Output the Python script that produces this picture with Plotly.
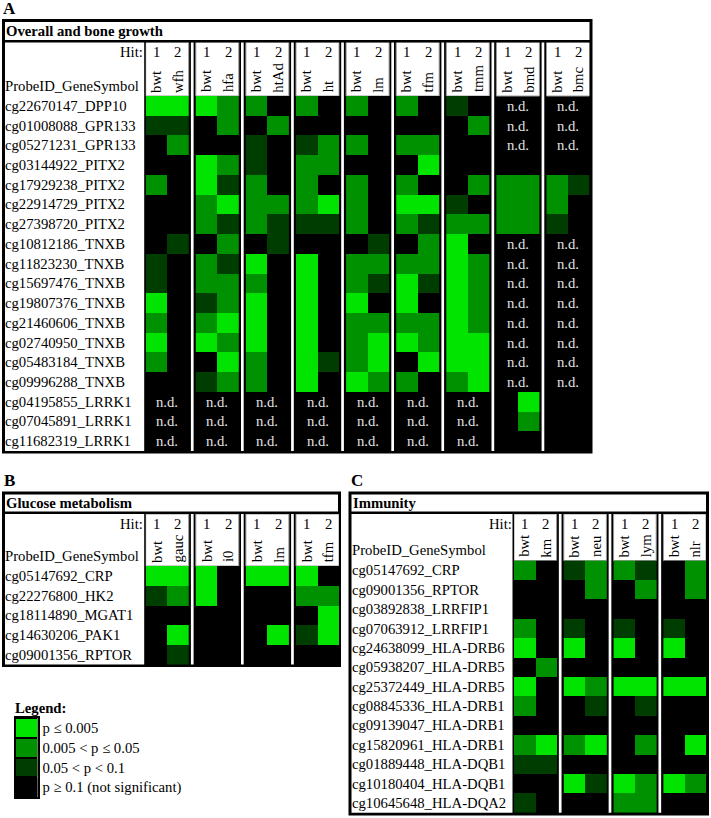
import plotly.graph_objects as go

W, H = 711, 818
N = None  # n.d. = not determined

# significance level per probe: 3 = p<=0.005, 2 = 0.005<p<=0.05, 1 = 0.05<p<0.1, 0 = p>=0.1
LEVEL_COLORS = ["#000000", "#003d00", "#009100", "#00e400"]
legend_labels = ["p \u2264 0.005", "0.005 < p \u2264 0.05", "0.05 < p < 0.1", "p \u2265 0.1 (not significant)"]
legend_levels = [3, 2, 1, 0]

# ---- A: Overall and bone growth
a_probes = ["cg22670147_DPP10", "cg01008088_GPR133", "cg05271231_GPR133", "cg03144922_PITX2",
            "cg17929238_PITX2", "cg22914729_PITX2", "cg27398720_PITX2", "cg10812186_TNXB",
            "cg11823230_TNXB", "cg15697476_TNXB", "cg19807376_TNXB", "cg21460606_TNXB",
            "cg02740950_TNXB", "cg05483184_TNXB", "cg09996288_TNXB", "cg04195855_LRRK1",
            "cg07045891_LRRK1", "cg11682319_LRRK1"]
a_traits = ["wfh", "hfa", "htAd", "ht", "lm", "tfm", "tmm", "bmd", "bmc"]
a_bwt_wfh = [3, 1, 0, 0, 2, 0, 0, 0, 1, 1, 3, 2, 3, 2, 0, N, N, N]
a_wfh = [3, 1, 2, 0, 0, 0, 0, 1, 0, 0, 0, 0, 0, 0, 0, N, N, N]
a_bwt_hfa = [3, 0, 0, 3, 3, 2, 2, 0, 2, 2, 1, 2, 3, 0, 1, N, N, N]
a_hfa = [2, 2, 0, 2, 1, 3, 1, 2, 1, 2, 2, 3, 2, 3, 2, N, N, N]
a_bwt_htAd = [2, 0, 1, 1, 2, 2, 2, 0, 3, 2, 3, 3, 3, 2, 2, N, N, N]
a_htAd = [0, 2, 0, 0, 0, 2, 1, 1, 0, 0, 0, 0, 0, 0, 0, N, N, N]
a_bwt_ht = [2, 0, 1, 2, 2, 2, 1, 0, 3, 3, 3, 3, 3, 3, 3, N, N, N]
a_ht = [0, 0, 2, 2, 0, 3, 1, 0, 0, 0, 0, 0, 0, 1, 0, N, N, N]
a_bwt_lm = [2, 0, 2, 0, 2, 2, 2, 0, 2, 2, 3, 2, 2, 2, 3, N, N, N]
a_lm = [0, 0, 0, 0, 0, 0, 0, 1, 2, 1, 0, 2, 3, 3, 2, N, N, N]
a_bwt_tfm = [2, 0, 2, 0, 2, 3, 2, 0, 2, 3, 3, 2, 3, 0, 2, N, N, N]
a_tfm = [0, 0, 2, 3, 0, 3, 1, 2, 2, 1, 0, 2, 2, 3, 0, N, N, N]
a_bwt_tmm = [1, 0, 0, 0, 0, 1, 2, 3, 3, 3, 3, 3, 3, 3, 2, N, N, N]
a_tmm = [0, 2, 0, 0, 2, 0, 2, 0, 2, 2, 2, 2, 3, 3, 3, N, N, N]
a_bwt_bmd = [N, N, N, 0, 2, 2, 2, N, N, N, N, N, N, N, N, 0, 0, 0]
a_bmd = [N, N, N, 0, 2, 2, 2, N, N, N, N, N, N, N, N, 3, 2, 0]
a_bwt_bmc = [N, N, N, 0, 2, 2, 1, N, N, N, N, N, N, N, N, 0, 0, 0]
a_bmc = [N, N, N, 0, 1, 0, 0, N, N, N, N, N, N, N, N, 0, 0, 0]

# ---- B: Glucose metabolism
b_probes = ["cg05147692_CRP", "cg22276800_HK2", "cg18114890_MGAT1", "cg14630206_PAK1", "cg09001356_RPTOR"]
b_traits = ["gauc", "i0", "lm", "tfm"]
b_bwt_gauc = [3, 1, 0, 0, 0]
b_gauc = [3, 2, 0, 3, 1]
b_bwt_i0 = [3, 3, 0, 0, 0]
b_i0 = [0, 0, 0, 0, 0]
b_bwt_lm = [3, 0, 0, 0, 0]
b_lm = [3, 0, 0, 3, 0]
b_bwt_tfm = [3, 2, 0, 1, 0]
b_tfm = [0, 2, 3, 3, 0]

# ---- C: Immunity
c_probes = ["cg05147692_CRP", "cg09001356_RPTOR", "cg03892838_LRRFIP1", "cg07063912_LRRFIP1",
            "cg24638099_HLA-DRB6", "cg05938207_HLA-DRB5", "cg25372449_HLA-DRB5", "cg08845336_HLA-DRB1",
            "cg09139047_HLA-DRB1", "cg15820961_HLA-DRB1", "cg01889448_HLA-DQB1", "cg10180404_HLA-DQB1",
            "cg10645648_HLA-DQA2"]
c_traits = ["km", "neu", "lym", "nlr"]
c_bwt_km = [2, 0, 0, 2, 3, 0, 3, 2, 0, 2, 1, 0, 1]
c_km = [0, 0, 0, 0, 0, 2, 0, 0, 0, 3, 1, 0, 0]
c_bwt_neu = [1, 0, 0, 1, 3, 0, 3, 0, 0, 2, 0, 3, 0]
c_neu = [2, 2, 0, 0, 0, 0, 2, 1, 0, 3, 0, 1, 0]
c_bwt_lym = [2, 0, 0, 1, 3, 0, 3, 0, 0, 0, 0, 3, 2]
c_lym = [1, 2, 0, 0, 0, 0, 3, 1, 0, 2, 0, 2, 2]
c_bwt_nlr = [0, 0, 0, 1, 3, 0, 3, 0, 0, 0, 0, 3, 0]
c_nlr = [2, 2, 0, 0, 0, 0, 3, 0, 0, 3, 0, 2, 0]

FONT = "Liberation Serif"
FS = 14.7
SCALE = [[0, LEVEL_COLORS[0]], [1 / 3, LEVEL_COLORS[1]], [2 / 3, LEVEL_COLORS[2]], [1, LEVEL_COLORS[3]]]


def px(x):
    return x / W


def py(y):
    return 1 - y / H


fig = go.Figure()
annotations = []
shapes = []


def text(t, x, y, xref="paper", yref="paper", size=FS, bold=False, color="black",
         xanchor="center", yanchor="middle", **kw):
    if bold:
        t = "<b>" + t + "</b>"
    annotations.append(dict(text=t, x=x, y=y, xref=xref, yref=yref, showarrow=False,
                            xanchor=xanchor, yanchor=yanchor,
                            font=dict(family=FONT, size=size, color=color), borderpad=0, **kw))


def rect(x0, y0, x1, y1, color, xref="paper", yref="paper", line=None, layer="below"):
    shapes.append(dict(type="rect", x0=x0, y0=y0, x1=x1, y1=y1, xref=xref, yref=yref,
                       fillcolor=color, line=line or dict(width=0), layer=layer))


def add_panel(k, letter, title, probes, traits, hit1, hit2, g):
    xa = "x" if k == 1 else "x%d" % k
    ya = "y" if k == 1 else "y%d" % k
    n = len(probes)
    rh = (g["data_bot"] - g["data_top"]) / n
    hdr = (g["data_top"] - g["hdr_top"]) / rh
    pu = g["pitch"] / g["cw"]
    xmax = (len(traits) - 1) * pu + 2
    right = g["left"] + xmax * g["cw"]

    # frame, title bar, label column
    bx0, by0, bx1, by1 = g["box"]
    rect(px(bx0), py(by0), px(bx1), py(by1), "black")
    rect(px(bx0 + 3), py(by0 + 3), px(bx1 - 3), py(g["hdr_top"] - 2.5), "white")
    rect(px(bx0 + 3), py(g["hdr_top"]), px(g["left"] - 1.5), py(g["data_bot"]), "white")
    text(letter, px(g["letter"][0]), py(g["letter"][1]), size=17, bold=True, xanchor="left")
    text(title, px(bx0 + 3), py((by0 + 3 + g["hdr_top"] - 2.5) / 2), bold=True, xanchor="left")
    text("Hit:", px(g["left"] - 1.5), py(g["hdr_top"] + 9.5), xanchor="right")
    text("ProbeID_GeneSymbol", px(bx0 + 2), py(g["data_top"] - 10.5), xanchor="left")
    for r, name in enumerate(probes):
        text(name, px(bx0 + 2), r, yref=ya, xanchor="left")

    rows = list(range(n))
    for i, trait in enumerate(traits):
        x0 = i * pu
        z = [[hit1[i][r], hit2[i][r]] for r in rows]
        fig.add_trace(go.Heatmap(x=[x0 + 0.5, x0 + 1.5], y=rows, z=z, colorscale=SCALE,
                                 zmin=0, zmax=3, showscale=False, xaxis=xa, yaxis=ya,
                                 hoverinfo="skip"))
        rect(x0, -0.5 - hdr, x0 + 2, -0.5, "white", xref=xa, yref=ya,
             line=dict(color="#9a9a9a", width=1))
        for c, (hit, lab) in enumerate(zip(["1", "2"], ["bwt", trait])):
            text(hit, x0 + 0.5 + c, py(g["hdr_top"] + 9.5), xref=xa)
            text(lab, x0 + 0.5 + c, py(g["data_top"] - 2.5), xref=xa, textangle=-90,
                 yanchor="bottom")
        for r in rows:
            if hit1[i][r] is None and hit2[i][r] is None:
                text("n.d.", x0 + 1, r, xref=xa, yref=ya, color="#e2e2e2")
        if i < len(traits) - 1:
            xs = x0 + 2 + (pu - 2) / 2
            shapes.append(dict(type="line", x0=xs, x1=xs, y0=0, y1=1, xref=xa,
                               yref=ya + " domain", line=dict(color="white", width=2.7),
                               layer="above"))

    fig.layout[xa.replace("x", "xaxis")] = dict(domain=[px(g["left"]), px(right)], range=[0, xmax],
                                                 visible=False, anchor=ya, fixedrange=True)
    fig.layout[ya.replace("y", "yaxis")] = dict(domain=[py(g["data_bot"]), py(g["hdr_top"])],
                                                 range=[n - 0.5, -0.5 - hdr], visible=False,
                                                 anchor=xa, fixedrange=True)


add_panel(1, "A", "Overall and bone growth", a_probes, a_traits,
          [a_bwt_wfh, a_bwt_hfa, a_bwt_htAd, a_bwt_ht, a_bwt_lm, a_bwt_tfm, a_bwt_tmm, a_bwt_bmd, a_bwt_bmc],
          [a_wfh, a_hfa, a_htAd, a_ht, a_lm, a_tfm, a_tmm, a_bmd, a_bmc],
          dict(box=(2, 19, 592.5, 453.5), hdr_top=42.5, data_top=96, data_bot=451,
               left=145.7, cw=21.5, pitch=50.1, letter=(1.5, 9)))
add_panel(2, "B", "Glucose metabolism", b_probes, b_traits,
          [b_bwt_gauc, b_bwt_i0, b_bwt_lm, b_bwt_tfm], [b_gauc, b_i0, b_lm, b_tfm],
          dict(box=(2, 491.5, 341, 667), hdr_top=514, data_top=566, data_bot=664.5,
               left=145.7, cw=21.5, pitch=50.1, letter=(2.5, 480)))
add_panel(3, "C", "Immunity", c_probes, c_traits,
          [c_bwt_km, c_bwt_neu, c_bwt_lym, c_bwt_nlr], [c_km, c_neu, c_lym, c_nlr],
          dict(box=(348.5, 491.5, 709, 815.5), hdr_top=514, data_top=560.7, data_bot=812.7,
               left=514, cw=21.3, pitch=49.8, letter=(349.5, 480)))

# legend drawn as a small heatmap column
fig.add_trace(go.Heatmap(x=[0], y=legend_labels, z=[[v] for v in legend_levels], colorscale=SCALE,
                         zmin=0, zmax=3, showscale=False, ygap=2, xaxis="x4", yaxis="y4",
                         hoverinfo="skip"))
text("Legend:", px(13.5), py(708), bold=True, xanchor="left")
fig.update_layout(
    xaxis4=dict(domain=[px(15.5), px(37.5)], anchor="y4", showticklabels=False, ticks="",
                showgrid=False, zeroline=False, showline=True, mirror=True, linecolor="black",
                linewidth=2, fixedrange=True),
    yaxis4=dict(domain=[py(797), py(718)], anchor="x4", side="right", type="category",
                autorange="reversed", ticks="", showgrid=False, zeroline=False, showline=True,
                mirror=True, linecolor="black", linewidth=2, tickfont=dict(family=FONT, size=FS),
                fixedrange=True),
)

fig.update_layout(width=W, height=H, margin=dict(l=0, r=0, t=0, b=0), paper_bgcolor="white",
                  plot_bgcolor="black", showlegend=False, font=dict(family=FONT, size=FS, color="black"),
                  annotations=annotations, shapes=shapes)
# page body has a default 8px margin; drop it so the figure sits at the window origin
fig.write_html("out.html", config={"displayModeBar": False},
               post_script="document.body.style.margin='0px';")
